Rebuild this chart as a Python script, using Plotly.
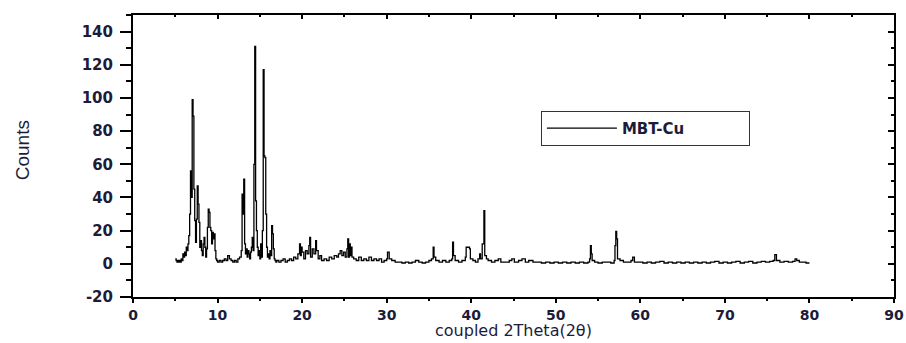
import plotly.graph_objects as go

# ---- data (2theta, counts) ----
two_theta_low = [5.0, 5.1, 5.2, 5.3, 5.4, 5.5, 5.6, 5.7, 5.8, 5.9, 6.0, 6.1, 6.2, 6.3, 6.4, 6.5, 6.6, 6.7, 6.8, 6.9,
                 7.0, 7.1, 7.2, 7.3, 7.4, 7.5, 7.6, 7.7, 7.8, 7.9, 8.0, 8.1, 8.2, 8.3, 8.4, 8.5, 8.6, 8.7, 8.8, 8.9,
                 9.0, 9.1, 9.2, 9.3, 9.4, 9.5, 9.6, 9.7, 9.8, 9.9,
                 10.0, 10.2, 10.4, 10.6, 10.8, 11.0, 11.2, 11.4, 11.6, 11.8, 12.0, 12.2, 12.4,
                 12.6, 12.8, 12.9, 13.0, 13.1, 13.2, 13.3, 13.4, 13.5, 13.6, 13.7, 13.8, 13.9, 14.0, 14.1, 14.2,
                 14.3, 14.4, 14.5, 14.6, 14.7, 14.8, 14.9, 15.0, 15.1, 15.2, 15.3, 15.4, 15.5, 15.6, 15.7, 15.8,
                 15.9, 16.0, 16.1, 16.2, 16.3, 16.4, 16.5, 16.6, 16.7, 16.8, 16.9]
counts_low = [3, 2, 1, 2, 1, 2, 1, 3, 2, 6, 4, 7, 5, 10, 8, 12, 17, 30, 56, 40,
              99, 89, 45, 26, 13, 27, 47, 36, 25, 10, 14, 8, 5, 12, 16, 10, 4, 9, 22, 33,
              31, 22, 20, 12, 19, 15, 18, 8, 3, 2,
              1, 2, 1, 2, 3, 2, 5, 3, 2, 1, 2, 1, 3,
              4, 8, 42, 30, 51, 12, 6, 9, 4, 8, 6, 3, 7, 10, 16, 8,
              60, 131, 38, 20, 10, 5, 8, 3, 12, 4, 20, 117, 65, 64, 30, 10,
              4, 6, 3, 8, 5, 23, 18, 9, 3, 2, 1]

two_theta_mid = [17.0, 17.25, 17.5, 17.75, 18.0, 18.25, 18.5, 18.75, 19.0, 19.25, 19.5,
                 19.7, 19.8, 19.9, 20.0, 20.2, 20.4, 20.6, 20.8, 20.9, 21.0, 21.2, 21.4, 21.6, 21.7, 21.9,
                 22.1, 22.3, 22.6, 22.9, 23.2, 23.5, 23.8, 24.1, 24.3, 24.5, 24.7, 24.9, 25.1, 25.3, 25.4,
                 25.5, 25.6, 25.7, 25.8, 25.9, 26.1, 26.4, 26.7, 27.0, 27.3, 27.6, 27.9, 28.2, 28.5, 28.8,
                 29.1, 29.4, 29.7, 30.0, 30.1, 30.3, 30.6, 31.0, 31.4, 31.8, 32.2, 32.6, 33.0, 33.4, 33.8,
                 34.2, 34.6, 35.0, 35.3, 35.5, 35.6, 35.8, 36.2, 36.6, 37.0, 37.4, 37.7, 37.8, 37.9, 38.1,
                 38.5, 38.9, 39.3, 39.4, 39.6, 39.8, 39.9, 40.2, 40.5, 40.8, 41.0, 41.1, 41.3, 41.5, 41.6,
                 41.8, 42.0, 42.4, 42.8, 43.2, 43.5, 44.0, 44.5, 44.8, 45.1, 45.6, 46.0, 46.4, 46.8, 47.3,
                 47.8, 48.3, 48.8, 49.3, 49.8]
counts_mid = [2, 1, 2, 3, 1, 2, 3, 2, 4, 3, 6,
              12, 5, 10, 7, 3, 8, 6, 11, 16, 4, 9, 6, 14, 8, 3,
              5, 2, 3, 2, 4, 3, 5, 4, 6, 8, 5, 7, 4, 9, 15,
              4, 12, 5, 10, 4, 3, 2, 4, 2, 3, 2, 4, 2, 3, 2,
              3, 1, 2, 3, 7, 3, 2, 1, 1, 0.5, 1, 0.5, 1, 2, 1,
              0.5, 1, 2, 3, 10, 4, 2, 1, 2, 1, 2, 3, 13, 5, 2,
              1, 2, 4, 10, 10, 9, 3, 2, 1, 3, 6, 3, 12, 32, 5,
              3, 2, 1, 2, 3, 1, 1, 2, 3, 1, 2, 3, 1, 2, 1,
              1, 0.5, 1, 0.5, 1]

two_theta_high = [50.3, 50.8, 51.3, 51.8, 52.3, 52.8, 53.3, 53.8, 54.0, 54.1, 54.2, 54.3, 54.6, 55.0, 55.5,
                  56.0, 56.5, 56.9, 57.0, 57.1, 57.2, 57.3, 57.6, 58.0, 58.5, 58.9, 59.1, 59.3, 59.8, 60.3,
                  60.8, 61.3, 61.8, 62.3, 62.8, 63.3, 63.8, 64.3, 64.8, 65.3, 65.8, 66.3, 66.8, 67.3, 67.8,
                  68.3, 68.8, 69.3, 69.8, 70.3, 70.8, 71.3, 71.8, 72.3, 72.8, 73.3, 73.8, 74.3, 74.8, 75.3,
                  75.7, 75.9, 76.1, 76.5, 77.0, 77.5, 78.0, 78.3, 78.5, 78.8, 79.2, 79.6, 80.0]
counts_high = [0.5, 1, 0.5, 1, 0.5, 1, 0.5, 1, 3, 11, 6, 2, 1, 0.5, 1,
               1, 0.5, 2, 11, 19.5, 15, 3, 2, 1, 1, 2, 4, 1, 1, 0.5,
               1, 0.5, 1, 1.5, 0.5, 1, 0.5, 1, 0.5, 1, 0.5, 1, 0.5, 1, 0.5,
               1, 1.5, 0.5, 1, 0.5, 1, 1.5, 0.5, 1, 1.5, 0.5, 1, 1.5, 1, 1.5,
               2, 5.5, 2, 1, 1.5, 1, 1.5, 3, 2, 1, 1, 0.5, 0.5]

x_ticks = [0, 10, 20, 30, 40, 50, 60, 70, 80, 90]
y_ticks = [-20, 0, 20, 40, 60, 80, 100, 120, 140]
y_tick_labels = ["-20", "0", "20", "40", "60", "80", "100", "120", "140"]

series_name = "MBT-Cu"
x_title = "coupled 2Theta(2θ)"
y_title = "Counts"

two_theta = two_theta_low + two_theta_mid + two_theta_high
counts = counts_low + counts_mid + counts_high

TXT = "#1c1c3a"
FONT = "DejaVu Sans"
NARROW = "Liberation Sans Narrow, Arial Narrow, Liberation Sans, sans-serif"

fig = go.Figure()
fig.add_trace(go.Scatter(x=two_theta, y=counts, mode="lines", name=series_name,
                         line=dict(color="black", width=1.3, shape="hv"), showlegend=True))
# invisible trace for the mirrored (top/right) axes
fig.add_trace(go.Scatter(x=[0], y=[0], xaxis="x2", yaxis="y2", mode="markers",
                         marker=dict(opacity=0), showlegend=False, hoverinfo="skip"))

fig.update_layout(
    width=906, height=343,
    margin=dict(l=133, r=12, t=15, b=46, autoexpand=False),
    paper_bgcolor="white", plot_bgcolor="white",
    font=dict(family=FONT, color=TXT),
    showlegend=True,
    legend=dict(x=0.536, y=0.66, xanchor="left", yanchor="top", orientation="h",
                entrywidth=122, entrywidthmode="pixels",
                bordercolor="#333", borderwidth=1, bgcolor="white",
                font=dict(size=15, family=FONT, color=TXT, weight="bold"),
                itemwidth=70, tracegroupgap=0),
    xaxis=dict(range=[0, 90], tickvals=x_ticks, automargin=False,
               ticks="outside", ticklen=4, tickwidth=1.5, tickcolor="black",
               minor=dict(dtick=5, tick0=0, ticks="outside", ticklen=2, tickcolor="black", tickwidth=1.5),
               showline=True, linecolor="black", linewidth=2, showgrid=False, zeroline=False,
               tickfont=dict(size=14, family=FONT, color=TXT, weight="bold")),
    yaxis=dict(range=[-20, 150], tickvals=y_ticks, ticktext=y_tick_labels, automargin=False,
               ticks="outside", ticklen=11, tickwidth=1.5, tickcolor="black", ticklabelstandoff=4,
               minor=dict(dtick=10, tick0=0, ticks="outside", ticklen=5, tickcolor="black", tickwidth=1.5),
               showline=True, linecolor="black", linewidth=2, showgrid=False, zeroline=False,
               tickfont=dict(size=15, family=FONT, color=TXT, weight="bold")),
    xaxis2=dict(range=[0, 90], overlaying="x", side="top", tickvals=x_ticks[1:-1],
                ticks="inside", ticklen=4, tickwidth=1.5, tickcolor="black", showticklabels=False,
                minor=dict(dtick=5, tick0=0, ticks="inside", ticklen=2, tickcolor="black", tickwidth=1.5),
                showline=True, linecolor="black", linewidth=1.5, showgrid=False, zeroline=False),
    yaxis2=dict(range=[-20, 150], overlaying="y", side="right", tickvals=y_ticks[1:],
                ticks="inside", ticklen=6, tickwidth=1.5, tickcolor="black", showticklabels=False,
                minor=dict(dtick=10, tick0=0, ticks="inside", ticklen=3, tickcolor="black", tickwidth=1.5),
                showline=True, linecolor="black", linewidth=1.5, showgrid=False, zeroline=False),
    annotations=[
        dict(text=x_title, xref="paper", yref="paper", x=0.5, y=-0.118, xanchor="center", yanchor="middle",
             showarrow=False, font=dict(size=16, family=FONT, color=TXT)),
        dict(text=y_title, xref="paper", yref="paper", x=-0.146, y=0.52, xanchor="center", yanchor="middle",
             textangle=-90, showarrow=False, font=dict(size=19, family=NARROW, color=TXT)),
    ],
)

fig.write_html("out.html")
